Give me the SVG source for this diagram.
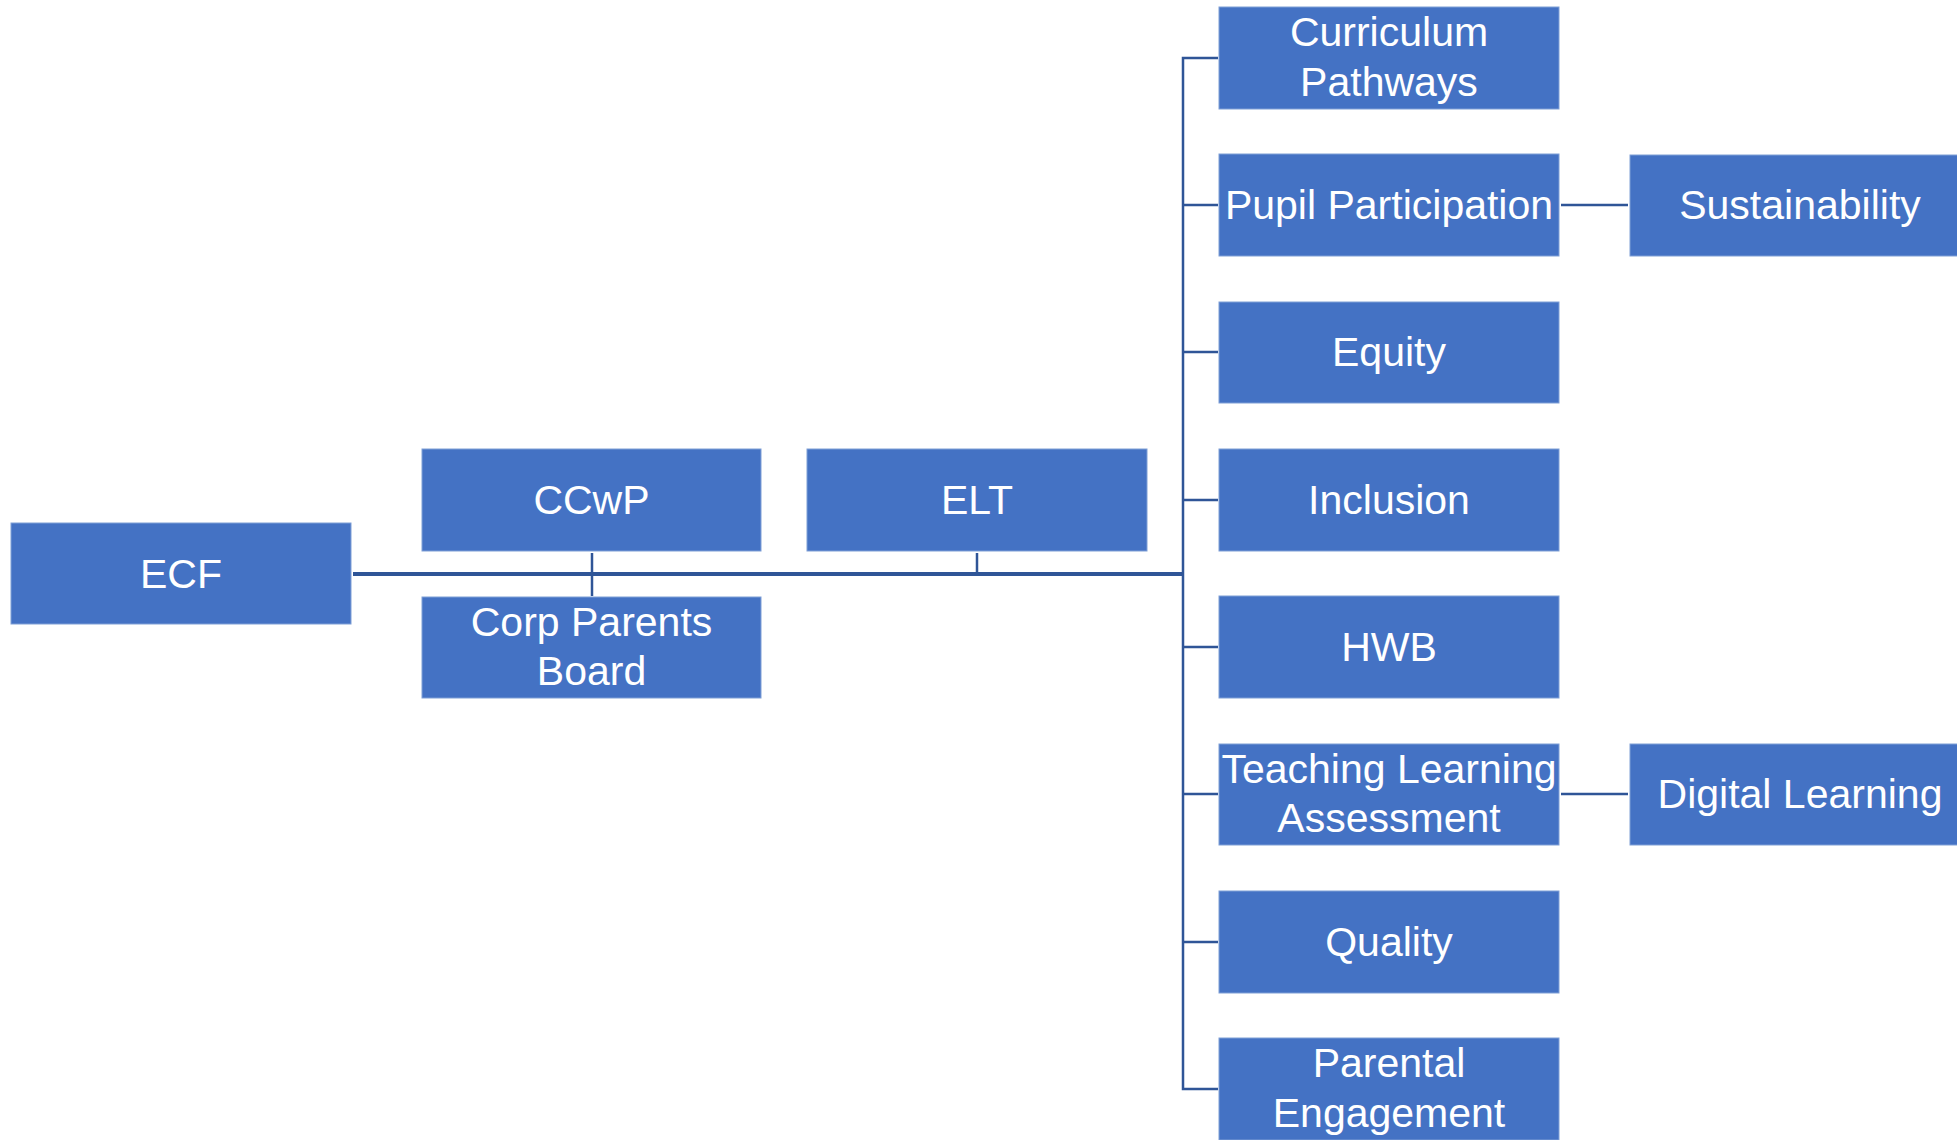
<svg xmlns="http://www.w3.org/2000/svg" width="1957" height="1140" viewBox="0 0 1957 1140">
<style>
.box{fill:#4472C4;stroke:#7F9FD6;stroke-width:1}
.t{fill:#FFFFFF;font-family:"Liberation Sans",Arial,sans-serif;font-size:41px;text-anchor:middle}
.c{stroke:#2F5597;fill:none;stroke-width:2.5}
.m{stroke:#2F5597;fill:none;stroke-width:4}
</style>
<rect width="1957" height="1140" fill="#FFFFFF"/>
<g id="connectors">
<line class="m" x1="353" y1="574" x2="1184" y2="574"/>
<line class="c" x1="592" y1="553" x2="592" y2="596"/>
<line class="c" x1="977" y1="553" x2="977" y2="574"/>
<polyline class="c" points="1218,58 1183,58 1183,1089 1218,1089"/>
<line class="c" x1="1183" y1="205" x2="1218" y2="205"/>
<line class="c" x1="1183" y1="352" x2="1218" y2="352"/>
<line class="c" x1="1183" y1="500" x2="1218" y2="500"/>
<line class="c" x1="1183" y1="647" x2="1218" y2="647"/>
<line class="c" x1="1183" y1="794" x2="1218" y2="794"/>
<line class="c" x1="1183" y1="942" x2="1218" y2="942"/>
<line class="c" x1="1561" y1="205" x2="1628" y2="205"/>
<line class="c" x1="1561" y1="794" x2="1628" y2="794"/>
</g>
<g id="ecf"><rect class="box" x="11" y="523" width="340" height="101"/><text class="t" x="181" y="588">ECF</text></g>
<g id="ccwp"><rect class="box" x="422" y="449" width="339" height="102"/><text class="t" x="591.5" y="514">CCwP</text></g>
<g id="elt"><rect class="box" x="807" y="449" width="340" height="102"/><text class="t" x="977" y="514">ELT</text></g>
<g id="corp-parents-board"><rect class="box" x="422" y="597" width="339" height="101"/><text class="t" x="591.5" y="636">Corp Parents</text><text class="t" x="591.5" y="685">Board</text></g>
<g id="curriculum-pathways"><rect class="box" x="1219" y="7" width="340" height="102"/><text class="t" x="1389" y="46">Curriculum</text><text class="t" x="1389" y="96">Pathways</text></g>
<g id="pupil-participation"><rect class="box" x="1219" y="154" width="340" height="102"/><text class="t" x="1389" y="219">Pupil Participation</text></g>
<g id="equity"><rect class="box" x="1219" y="302" width="340" height="101"/><text class="t" x="1389" y="366">Equity</text></g>
<g id="inclusion"><rect class="box" x="1219" y="449" width="340" height="102"/><text class="t" x="1389" y="514">Inclusion</text></g>
<g id="hwb"><rect class="box" x="1219" y="596" width="340" height="102"/><text class="t" x="1389" y="661">HWB</text></g>
<g id="teaching-learning-assessment"><rect class="box" x="1219" y="744" width="340" height="101"/><text class="t" x="1389" y="783">Teaching Learning</text><text class="t" x="1389" y="832">Assessment</text></g>
<g id="quality"><rect class="box" x="1219" y="891" width="340" height="102"/><text class="t" x="1389" y="956">Quality</text></g>
<g id="parental-engagement"><rect class="box" x="1219" y="1038" width="340" height="102"/><text class="t" x="1389" y="1077">Parental</text><text class="t" x="1389" y="1127">Engagement</text></g>
<g id="sustainability"><rect class="box" x="1630" y="155" width="340" height="101"/><text class="t" x="1800" y="219">Sustainability</text></g>
<g id="digital-learning"><rect class="box" x="1630" y="744" width="340" height="101"/><text class="t" x="1800" y="808">Digital Learning</text></g>
</svg>
